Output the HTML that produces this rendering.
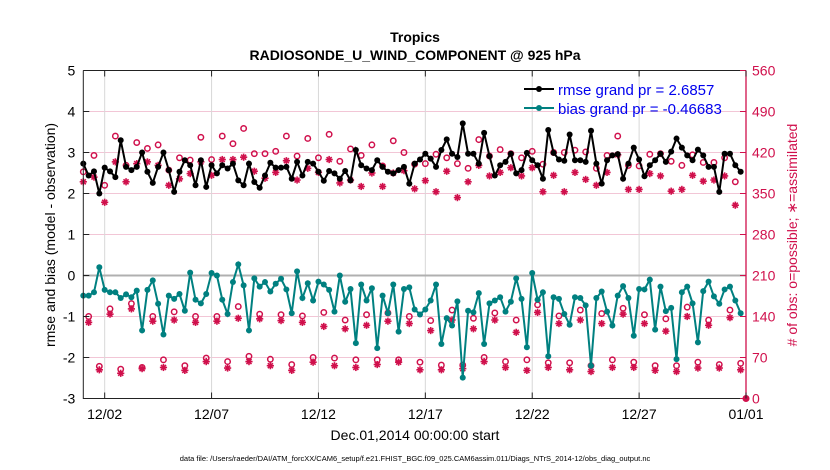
<!DOCTYPE html>
<html><head><meta charset="utf-8"><style>
body{margin:0;background:#fff;}
svg{display:block;font-family:"Liberation Sans",Arial,sans-serif;}
</style></head><body>
<svg id="chart" width="830" height="470" viewBox="0 0 830 470" xmlns="http://www.w3.org/2000/svg">
<rect width="830" height="470" fill="#fff"/>
<text x="415" y="42" text-anchor="middle" font-size="14" font-weight="bold">Tropics</text>
<text x="415" y="60" text-anchor="middle" font-size="14" font-weight="bold">RADIOSONDE_U_WIND_COMPONENT @ 925 hPa</text>
<g id="grid"></g>
<g id="marks"></g>
<g id="axes"></g>
<text transform="translate(55,235) rotate(-90)" text-anchor="middle" font-size="14">rmse and bias (model - observation)</text>
<text transform="translate(797,235) rotate(-90)" text-anchor="middle" font-size="14" fill="#d0104c"># of obs: o=possible; ∗=assimilated</text>
<text x="415" y="440" text-anchor="middle" font-size="14">Dec.01,2014 00:00:00 start</text>
<text x="415" y="461" text-anchor="middle" font-size="7.5">data file: /Users/raeder/DAI/ATM_forcXX/CAM6_setup/f.e21.FHIST_BGC.f09_025.CAM6assim.011/Diags_NTrS_2014-12/obs_diag_output.nc</text>
<g>
<line x1="524" y1="89" x2="554" y2="89" stroke="#000" stroke-width="2"/>
<circle cx="539" cy="89" r="3" fill="#000"/>
<text x="558" y="95" font-size="15" fill="#0000ee">rmse grand pr = 2.6857</text>
<line x1="524" y1="108" x2="554" y2="108" stroke="#008080" stroke-width="2"/>
<circle cx="539" cy="108" r="3" fill="#008080"/>
<text x="558" y="114" font-size="15" fill="#0000ee">bias grand pr = -0.46683</text>
</g>
</svg>
<script>
const rmse=[2.73,2.44,2.54,2.0,2.63,2.54,2.4,3.3,2.65,2.57,2.65,3.0,2.53,2.26,2.65,3.0,2.57,2.04,2.53,2.81,2.69,2.2,2.81,2.16,2.69,2.49,2.69,2.61,2.73,2.32,2.2,
2.73,2.28,2.14,2.44,2.75,2.63,2.63,2.65,2.36,2.77,2.44,2.77,2.73,2.53,2.31,2.55,2.49,2.36,2.55,2.32,3.06,2.69,2.61,2.57,2.81,2.65,2.53,2.49,2.57,2.65,2.24,
2.73,2.83,2.97,2.85,2.65,3.06,3.32,2.97,2.89,3.71,2.97,2.97,2.73,3.48,2.91,2.44,2.69,2.77,2.97,2.49,2.57,2.99,2.81,2.69,2.36,3.55,2.99,2.83,2.8,3.44,
2.81,2.81,2.77,3.53,2.73,2.24,2.81,2.93,2.96,2.36,2.73,3.12,2.83,2.42,2.69,2.81,2.97,2.77,3.02,3.34,3.12,2.93,2.81,3.07,2.93,2.65,2.65,2.04,2.97,2.97,2.69,2.53];
const bias=[-0.49,-0.49,-0.41,0.2,-0.35,-0.41,-0.41,-0.55,-0.46,-0.53,-0.37,-1.34,-0.35,-0.12,-0.69,-1.44,-0.49,-0.57,-0.45,-0.86,0.07,-0.59,-0.68,-0.45,0.06,0,-0.59,-0.94,-0.16,0.27,-0.24,
-1.34,-0.07,-0.27,-0.16,-0.39,-0.2,-0.08,-0.34,-0.92,0.1,-0.55,-0.19,-0.61,-0.15,-0.22,-0.35,-0.88,0,-0.64,-0.33,-1.65,-0.22,-0.61,-0.31,-1.77,-0.49,-0.92,-0.22,-1.37,-0.33,-0.29,
-0.83,-0.95,-0.83,-0.61,-0.22,-1.67,-1.04,-1.22,-0.63,-2.49,-0.86,-0.9,-0.43,-1.67,-0.68,-0.61,-0.53,-0.88,-0.64,-0.07,-0.57,-1.75,0.06,-0.59,-0.41,-1.97,-0.53,-0.57,-0.94,-1.2,
-0.53,-0.55,-0.73,-2.2,-0.55,-0.39,-0.88,-1.22,-0.49,-0.26,-0.55,-1.47,-0.33,-0.34,-0.1,-1.32,-0.27,-0.87,-0.79,-2.04,-0.41,-0.27,-0.68,-1.63,-0.38,-0.15,-0.51,-0.69,-0.34,-0.27,-0.61,-0.92];
// counts at 00Z/12Z (even steps)
const possibleSyn=[387,415,364,448,398,437,427,433,390,411,407,446,408,448,435,461,418,418,422,448,414,444,411,451,405,426,415,433,397,440,420,400,401,417,411,401,393,442,414,425,418,411,422,400,420,420,424,421,393,415,448,398,397,417,418,405,398,416,403,403,411,370];
const assimSyn=[370,378,335,404,370,401,404,398,364,375,384,404,381,408,408,412,388,376,386,406,373,393,386,408,368,373,362,385,362,385,389,358,372,353,388,343,370,398,380,386,394,380,394,353,381,353,386,374,364,386,416,357,357,384,380,354,357,381,371,373,380,330];
// counts at 06Z
const possible06=[140,153,162,140,148,140,140,157,144,143,141,147,134,143,146,140,133,151,137,146,134,160,141,151,145,154,143,136,156,134,151];
const assim06=[130,144,153,132,134,130,132,137,136,133,130,123,119,125,132,128,116,134,119,134,113,147,128,134,128,144,128,115,140,125,138];
// counts at 18Z
const possible18=[55,50,53,66,56,69,63,72,67,58,70,69,66,66,66,62,57,57,70,63,66,61,61,56,66,62,56,56,62,58,60];
const assim18=[49,43,51,53,48,63,52,63,56,48,62,56,53,58,62,49,49,51,63,53,48,53,49,46,53,53,48,46,52,52,49];
const xTickLabels=["12/02","12/07","12/12","12/17","12/22","12/27","01/01"];
const xTickDays=[1,6,11,16,21,26,31];
const yLeftTicks=[5,4,3,2,1,0,-1,-2,-3];
const yRightTicks=[560,490,420,350,280,210,140,70,0];

const NS="http://www.w3.org/2000/svg";
const X0=83.3,X1=746,Y0=70.5,Y1=398.5;
const xDay=d=>X0+(X1-X0)*d/31;
const xStep=k=>xDay(k/4);
const yL=v=>Y1-(v+3)/8*(Y1-Y0);
const yR=c=>Y1-c/560*(Y1-Y0);
function mk(tag,attrs,parent){const e=document.createElementNS(NS,tag);for(const a in attrs)e.setAttribute(a,attrs[a]);parent.appendChild(e);return e;}
const grid=document.getElementById('grid'),marks=document.getElementById('marks'),axes=document.getElementById('axes');
const RED="#d0104c";

yRightTicks.forEach(c=>{const l=mk('line',{x1:X0,x2:X1,y1:yR(c),y2:yR(c),stroke:'#f2c6d6','stroke-width':1},grid);

});
xTickDays.forEach(d=>{const l=mk('line',{x1:xDay(d),x2:xDay(d),y1:Y0,y2:Y1,stroke:'#d8d8d8','stroke-width':1},grid);

});
const zl=mk('line',{x1:X0,x2:X1,y1:yL(0),y2:yL(0),stroke:'#b0b0b0','stroke-width':2},grid);



// count markers
function countAt(k){
  if(k%2===0) return [possibleSyn[k/2],assimSyn[k/2]];
  if(k%4===1) return [possible06[(k-1)/4],assim06[(k-1)/4]];
  return [possible18[(k-3)/4],assim18[(k-3)/4]];
}
function star(x,y){const g=mk('g',{stroke:RED,'stroke-width':1.6},marks);


const r=3.6;[[0,1],[1,0],[0.7,0.7],[0.7,-0.7]].forEach(([a,b])=>mk('line',{x1:x-a*r,y1:y-b*r,x2:x+a*r,y2:y+b*r},g));}
for(let k=0;k<rmse.length;k++){const [p,a]=countAt(k);const x=xStep(k);
 star(x,yR(a));
 const c=mk('circle',{cx:x,cy:yR(p),r:2.7,fill:'none',stroke:RED,'stroke-width':1.5},marks);
 
 }
const endDot=mk('circle',{cx:xStep(124),cy:yR(0),r:3.5,fill:RED},marks);



function series(vals,color,name){
 const pts=vals.map((v,k)=>xStep(k).toFixed(1)+','+yL(v).toFixed(1)).join(' ');
 const pl=mk('polyline',{points:pts,fill:'none',stroke:color,'stroke-width':2},marks);
 
 
 vals.forEach((v,k)=>{const c=mk('circle',{cx:xStep(k),cy:yL(v),r:3,fill:color},marks);
 
 });
}
series(rmse,'#000','rmse');
series(bias,'#008080','bias');

// axes
const ax=mk('path',{d:`M${X0},${Y0}V${Y1}H${X1}`,fill:'none',stroke:'#222','stroke-width':1},axes);


const at=mk('line',{x1:X0,x2:X1,y1:Y0,y2:Y0,stroke:'#222','stroke-width':1},axes);


const ar=mk('line',{x1:X1,x2:X1,y1:Y0,y2:Y1,stroke:RED,'stroke-width':1.3},axes);


yLeftTicks.forEach(v=>{mk('line',{x1:X0,x2:X0+6,y1:yL(v),y2:yL(v),stroke:'#222'},axes);
 const t=mk('text',{x:X0-8,y:yL(v)+5,'text-anchor':'end','font-size':14},axes);t.textContent=v;
 
 });
yRightTicks.forEach(c=>{mk('line',{x1:X1-6,x2:X1,y1:yR(c),y2:yR(c),stroke:RED},axes);
 const t=mk('text',{x:X1+6,y:yR(c)+5,'font-size':14,fill:RED},axes);t.textContent=c;
 
 });
xTickDays.forEach((d,i)=>{mk('line',{x1:xDay(d),x2:xDay(d),y1:Y1,y2:Y1-6,stroke:'#222'},axes);
 mk('line',{x1:xDay(d),x2:xDay(d),y1:Y0,y2:Y0+6,stroke:'#222'},axes);
 const t=mk('text',{x:xDay(d),y:419,'text-anchor':'middle','font-size':14},axes);t.textContent=xTickLabels[i];
 
 });
</script>
</body></html>
